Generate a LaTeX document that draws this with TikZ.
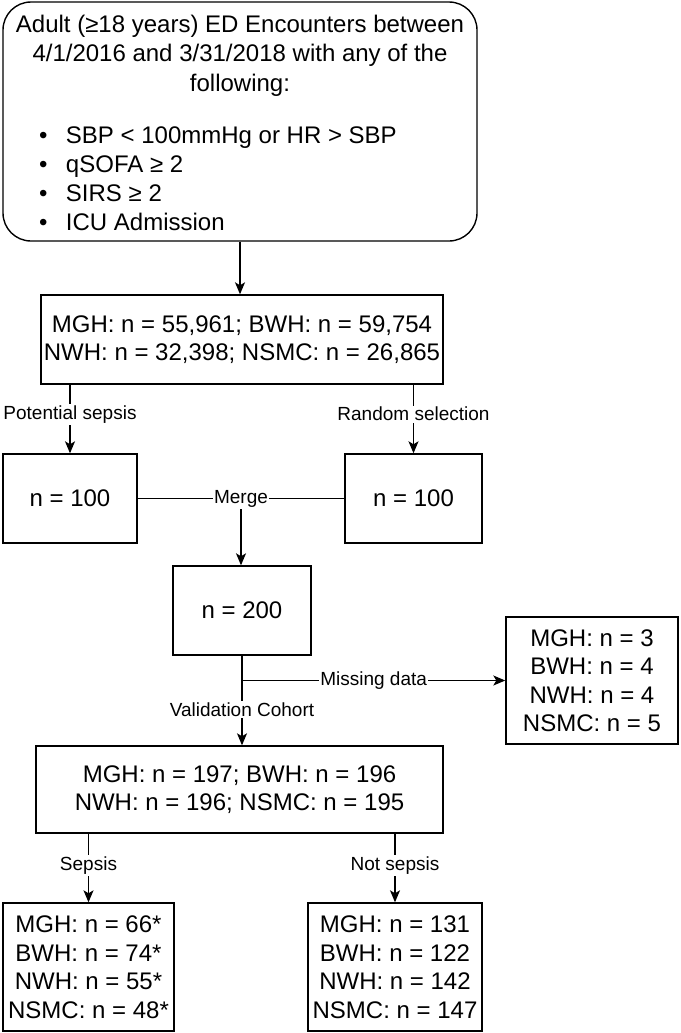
\documentclass[tikz,border=0pt]{standalone}
\usepackage{fontspec}
\setmainfont{Liberation Sans}
\usetikzlibrary{arrows.meta}
\begin{document}
\begin{tikzpicture}[x=1pt,y=-1pt,
  boxf/.style={draw=black, line width=1.4pt, inner sep=0pt, align=center,
    font=\fontsize{24}{28.5}\selectfont, text=black},
  lbl/.style={fill=white, inner sep=1.5pt, font=\fontsize{19}{22}\selectfont},
  arr/.style={line width=1.3pt, -{Stealth[length=12pt,width=10pt,inset=3pt]}},
  ln/.style={line width=1.3pt},
  txt/.style={inner sep=0pt, font=\fontsize{24}{28.5}\selectfont, anchor=base}]
\useasboundingbox (0,0) rectangle (680,1033);

% top box
\node[boxf, rounded corners=28pt, minimum width=474pt, minimum height=239pt] (top) at (240,121.5) {};
\node[txt] (t1) at (240,33) {Adult (≥18 years) ED Encounters between};
\node[txt] (t2) at (240,62) {4/1/2016 and 3/31/2018 with any of the};
\node[txt] (t3) at (240,91) {following:};
\node[txt, anchor=base west] (i1) at (38.8,143) {\makebox[27pt][l]{•}SBP < 100mmHg or HR > SBP};
\node[txt, anchor=base west] (i2) at (38.8,172) {\makebox[27pt][l]{•}qSOFA ≥ 2};
\node[txt, anchor=base west] (i3) at (38.8,201) {\makebox[27pt][l]{•}SIRS ≥ 2};
\node[txt, anchor=base west] (i4) at (38.8,230) {\makebox[27pt][l]{•}ICU Admission};

% boxes
\node[boxf, minimum width=402pt, minimum height=89pt] (box2) at (242,339.5)
  {MGH: n = 55,961; BWH: n = 59,754\\NWH: n = 32,398; NSMC: n = 26,865};
\node[boxf, minimum width=134pt, minimum height=89pt] (n100L) at (70,498.5) {n = 100};
\node[boxf, minimum width=137pt, minimum height=89pt] (n100R) at (413.5,498.5) {n = 100};
\node[boxf, minimum width=138pt, minimum height=89pt] (n200) at (242,610.5) {n = 200};
\node[boxf, minimum width=172pt, minimum height=127pt] (missbox) at (592,680.5)
  {MGH: n = 3\\BWH: n = 4\\NWH: n = 4\\NSMC: n = 5};
\node[boxf, minimum width=407pt, minimum height=87pt] (box3) at (239.5,789.5)
  {MGH: n = 197; BWH: n = 196\\NWH: n = 196; NSMC: n = 195};
\node[boxf, minimum width=171pt, minimum height=128pt] (sepbox) at (88.5,967)
  {MGH: n = 66*\\BWH: n = 74*\\NWH: n = 55*\\NSMC: n = 48*};
\node[boxf, minimum width=174pt, minimum height=128pt] (notbox) at (395,967)
  {MGH: n = 131\\BWH: n = 122\\NWH: n = 142\\NSMC: n = 147};

% connectors
\draw[arr] (top.south) -- (top.south |- box2.north);
\draw[arr] (n100L.north |- box2.south) -- node[lbl, pos=0.43] (lp) {Potential sepsis} (n100L.north);
\draw[arr] (n100R.north |- box2.south) -- node[lbl, pos=0.43] (lr) {Random selection} (n100R.north);
\draw[ln] (n100L.east) -- node[lbl] (mergelbl) {Merge} (n100R.west);
\draw[arr] (mergelbl.south) -- (mergelbl.south |- n200.north);
\draw[arr] (n200.south) -- node[lbl, pos=0.6] (lv) {Validation Cohort} (n200.south |- box3.north);
\coordinate (split) at (n200.south |- missbox.west);
\draw[arr] (split) -- node[lbl] (lm) {Missing data} (missbox.west);
\draw[arr] (sepbox.north |- box3.south) -- node[lbl, pos=0.46] (ls) {Sepsis} (sepbox.north);
\draw[arr] (notbox.north |- box3.south) -- node[lbl, pos=0.46] (ln) {Not sepsis} (notbox.north);
\end{tikzpicture}
\end{document}
